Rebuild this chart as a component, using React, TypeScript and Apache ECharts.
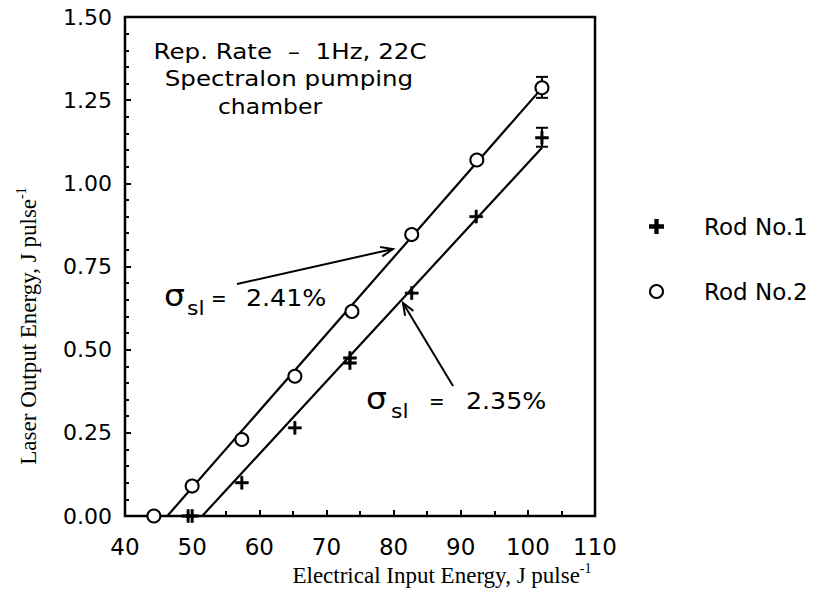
import React, { useEffect, useRef } from "react";
import * as echarts from "echarts";

// Rod No.1 (plus markers)
const rod1Points: [number, number][] = [
  [49.4, 0.0], [50.0, 0.0], [57.4, 0.10], [65.3, 0.265], [73.5, 0.46], [73.5, 0.475],
  [82.7, 0.67], [92.3, 0.90], [102.1, 1.137],
];
// Rod No.2 (open circles)
const rod2Points: [number, number][] = [
  [44.3, 0.0], [50.0, 0.09], [57.4, 0.23], [65.3, 0.42], [73.8, 0.615],
  [82.7, 0.846], [92.4, 1.07], [102.1, 1.287],
];
// fitted lines (end points)
const rod1Fit: [number, number][] = [[51.5, 0.0], [102.1, 1.107]];
const rod2Fit: [number, number][] = [[46.3, 0.0], [101.6, 1.275]];
// error bars [x, low, high]
const rod1Err: [number, number, number][] = [[102.1, 1.11, 1.167]];
const rod2Err: [number, number, number][] = [[102.1, 1.257, 1.32]];

const xMin = 40, xMax = 110, xStep = 10;
const yMin = 0, yMax = 1.5, yStep = 0.25;

const PLUS = "path://M4.1,0H5.9V4.1H10V5.9H5.9V10H4.1V5.9H0V4.1H4.1Z";
const SANS = "DejaVu Sans";
const SERIF = "Liberation Serif";

function arrow(x1: number, y1: number, x2: number, y2: number) {
  const a = Math.atan2(y2 - y1, x2 - x1);
  const L = 13, spread = 0.38;
  const p1 = [x2 - L * Math.cos(a - spread), y2 - L * Math.sin(a - spread)];
  const p2 = [x2 - L * Math.cos(a + spread), y2 - L * Math.sin(a + spread)];
  return [
    { type: "line", shape: { x1, y1, x2, y2 }, style: { stroke: "#000", lineWidth: 2 }, z: 100 },
    { type: "polyline", shape: { points: [p1, [x2, y2], p2] }, style: { stroke: "#000", lineWidth: 2, fill: null }, z: 100 },
  ];
}

function txt(text: string, x: number, y: number, size: number, align = "left", sx = 1) {
  return {
    type: "text",
    x, y, z: 100, scaleX: sx,
    style: {
      text, fill: "#000", fontSize: size, fontFamily: SANS,
      align, textAlign: align, verticalAlign: "middle", textVerticalAlign: "middle",
    },
  };
}

function sigmaLabel(sx: number, y: number, subX: number, eqX: number, valX: number, value: string) {
  return [
    txt("σ", sx, y - 2, 30, "left", 1.1),
    txt("sl", subX, y + 10, 20, "left", 1.1),
    txt("=", eqX, y, 22, "left", 0.85),
    txt(value, valX, y, 23, "left", 1.1),
  ];
}

export default function App() {
  const ref = useRef<HTMLDivElement>(null);
  useEffect(() => {
    if (!ref.current) return;
    const chart = echarts.init(ref.current, undefined, { renderer: "svg" });
    const errRender = (params: any, api: any) => {
      const x = api.value(0);
      const lo = api.coord([x, api.value(1)]);
      const hi = api.coord([x, api.value(2)]);
      const w = 6;
      const st = { stroke: "#000", lineWidth: 2 };
      return {
        type: "group",
        children: [
          { type: "line", shape: { x1: lo[0], y1: lo[1], x2: hi[0], y2: hi[1] }, style: st },
          { type: "line", shape: { x1: hi[0] - w, y1: hi[1], x2: hi[0] + w, y2: hi[1] }, style: st },
          { type: "line", shape: { x1: lo[0] - w, y1: lo[1], x2: lo[0] + w, y2: lo[1] }, style: st },
        ],
      };
    };
    const option: any = {
      animation: false,
      backgroundColor: "#fff",
      grid: {
        left: 125, right: 220, top: 17, bottom: 95,
        show: true, borderColor: "#000", borderWidth: 2.5, backgroundColor: "transparent",
      },
      legend: {
        orient: "vertical",
        left: 644,
        top: 210,
        itemWidth: 13,
        itemHeight: 13,
        itemGap: 42,
        data: ["Rod No.1", "Rod No.2"],
        textStyle: { fontFamily: SANS, fontSize: 23, color: "#000", padding: [0, 0, 0, 36] },
      },
      xAxis: {
        type: "value", min: xMin, max: xMax, interval: xStep,
        axisLine: { show: true, onZero: false, lineStyle: { color: "#000", width: 2 } },
        axisTick: { show: true, inside: true, length: 6, lineStyle: { color: "#000", width: 2 } },
        minorTick: { show: true, splitNumber: 2, length: 5, lineStyle: { color: "#000", width: 2 } },
        splitLine: { show: false },
        axisLabel: { color: "#000", fontFamily: SANS, fontSize: 23, margin: 19 },
      },
      yAxis: {
        type: "value", min: yMin, max: yMax, interval: yStep,
        axisLine: { show: true, onZero: false, lineStyle: { color: "#000", width: 2 } },
        axisTick: { show: true, inside: true, length: 6, lineStyle: { color: "#000", width: 2 } },
        minorTick: { show: true, splitNumber: 5, length: 4, lineStyle: { color: "#000", width: 2 } },
        splitLine: { show: false },
        axisLabel: {
          color: "#000", fontFamily: SANS, fontSize: 22, margin: 13,
          formatter: (v: number) => v.toFixed(2),
        },
      },
      series: [
        { type: "line", name: "fit1", data: rod1Fit, symbol: "none", silent: true,
          lineStyle: { color: "#000", width: 2.2 }, z: 2 },
        { type: "line", name: "fit2", data: rod2Fit, symbol: "none", silent: true,
          lineStyle: { color: "#000", width: 2.2 }, z: 2 },
        { type: "custom", name: "err1", data: rod1Err, renderItem: errRender,
          encode: { x: 0, y: [1, 2] }, z: 3 },
        { type: "custom", name: "err2", data: rod2Err, renderItem: errRender,
          encode: { x: 0, y: [1, 2] }, z: 3 },
        { type: "scatter", name: "Rod No.1", data: rod1Points, symbol: PLUS, symbolSize: 13,
          itemStyle: { color: "#000", borderColor: "#000", borderWidth: 0.6, opacity: 1 }, z: 5 },
        { type: "scatter", name: "Rod No.2", data: rod2Points, symbol: "circle", symbolSize: 13,
          itemStyle: { color: "#fff", borderColor: "#000", borderWidth: 2, opacity: 1 }, z: 6 },
      ],
      graphic: [
        txt("Rep. Rate  –  1Hz, 22C", 290, 52, 21, "center", 1.17),
        txt("Spectralon pumping", 289, 79, 21, "center", 1.17),
        txt("chamber", 270, 106, 21, "center", 1.12),
        ...sigmaLabel(164, 298, 187, 211, 246, "2.41%"),
        ...sigmaLabel(366, 401, 391, 429, 466, "2.35%"),
        ...arrow(237, 284, 393, 249),
        ...arrow(453, 386, 403, 303),
        {
          type: "text", x: 442, y: 575, z: 100,
          style: {
            text: "{a|Electrical Input Energy, J pulse}{b|-1}",
            align: "center", textAlign: "center", verticalAlign: "middle", textVerticalAlign: "middle",
            rich: {
              a: { fontFamily: SERIF, fontSize: 23, color: "#000", lineHeight: 28, verticalAlign: "middle" },
              b: { fontFamily: SERIF, fontSize: 14, color: "#000", verticalAlign: "top" },
            },
          },
        },
        {
          type: "text", x: 28, y: 326, rotation: Math.PI / 2, z: 100,
          style: {
            text: "{a|Laser Output Energy, J pulse}{b|-1}",
            align: "center", textAlign: "center", verticalAlign: "middle", textVerticalAlign: "middle",
            rich: {
              a: { fontFamily: SERIF, fontSize: 23, color: "#000", lineHeight: 28, verticalAlign: "middle" },
              b: { fontFamily: SERIF, fontSize: 14, color: "#000", verticalAlign: "top" },
            },
          },
        },
      ],
    };
    chart.setOption(option);
    return () => chart.dispose();
  }, []);
  return (
    <div
      ref={ref}
      style={{ position: "fixed", left: 0, top: 0, width: 815, height: 611, background: "#fff" }}
    />
  );
}
